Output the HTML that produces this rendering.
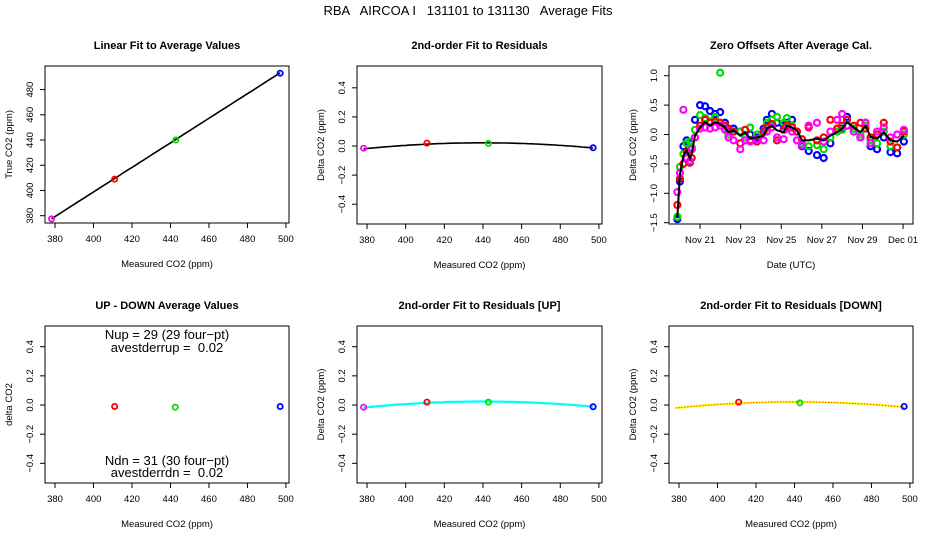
<!DOCTYPE html>
<html><head><meta charset="utf-8">
<style>
html,body{margin:0;padding:0;background:#fff;}
svg{display:block;font-family:"Liberation Sans",Arial,sans-serif;}
</style></head>
<body>
<svg id="fig" width="936" height="540" viewBox="0 0 936 540" xmlns="http://www.w3.org/2000/svg">
<rect width="936" height="540" fill="#fff"/>
<text x="468" y="15" font-size="13" text-anchor="middle" style="white-space:pre" xml:space="preserve">RBA   AIRCOA I   131101 to 131130   Average Fits</text>
</svg>
<script>
// ---- data ----
const measured = [378.2, 411.0, 442.8, 497.0];
const trueCO2 = [377.5, 409.0, 440.0, 493.0];
const pointColors = ["#ff00ff", "#ff0000", "#00dd00", "#0000ff"];
const linFit = [0.974, 9.2]; // slope, intercept
const resid = [-0.015, 0.02, 0.018, -0.012];
const residFit = [0.022, 1.09e-5, 440]; // peak, curvature, center
const udX = [411.0, 442.5, 497.0];
const udY = [-0.01, -0.015, -0.01];
const udColors = ["#ff0000", "#00dd00", "#0000ff"];
const residUp = [-0.015, 0.02, 0.02, -0.012];
const residDn = [-0.015, 0.02, 0.015, -0.01];
const xTicks = [380, 400, 420, 440, 460, 480, 500];
const yTicks1 = [380, 400, 420, 440, 460, 480];
const yTicksR = [-0.4, -0.2, 0.0, 0.2, 0.4];
const yTicksR3 = [-1.5, -1.0, -0.5, 0.0, 0.5, 1.0];
const dateTicks = [21, 23, 25, 27, 29, 31];
const dateLabels = ["Nov 21", "Nov 23", "Nov 25", "Nov 27", "Nov 29", "Dec 01"];
const days = [19.88,20.01,20.18,20.34,20.50,20.59,20.75,21.0,21.25,21.49,21.74,21.99,22.23,22.40,22.65,22.98,23.22,23.47,23.80,24.13,24.29,24.54,24.79,25.12,25.28,25.53,25.77,26.02,26.35,26.76,27.09,27.42,27.75,28.0,28.24,28.57,28.90,29.15,29.40,29.72,30.05,30.38,30.71,31.04];
const offBlack = [-1.42,-0.67,-0.36,-0.27,-0.41,-0.33,-0.02,0.12,0.21,0.15,0.21,0.18,0.12,0.04,0.07,-0.02,0.04,-0.07,-0.05,-0.02,0.10,0.15,0.07,0.04,0.15,0.12,0.07,-0.10,-0.10,-0.07,-0.10,-0.02,0.04,0.10,0.21,0.12,0.04,0.15,-0.04,-0.07,0.04,-0.10,-0.12,-0.02];
const offBlue = [-1.44,-0.80,-0.20,-0.10,-0.15,-0.25,0.25,0.50,0.48,0.40,0.35,0.38,0.20,0.05,0.10,0.05,-0.10,0.0,-0.05,0.10,0.25,0.35,0.20,0.15,0.20,0.25,0.05,-0.20,-0.28,-0.35,-0.40,-0.15,0.05,0.10,0.30,0.10,-0.05,0.20,-0.20,-0.25,-0.05,-0.30,-0.32,-0.12];
const offGreen = [-1.40,-0.55,-0.33,-0.15,-0.12,-0.22,0.08,0.33,0.28,0.22,0.30,1.05,0.15,0.0,0.05,0.05,-0.05,0.12,0.0,0.05,0.20,0.25,0.30,0.20,0.28,0.15,0.05,-0.15,-0.20,-0.18,-0.25,-0.05,0.05,0.08,0.25,0.10,0.0,0.15,-0.10,-0.15,0.05,-0.20,-0.22,0.0];
const offRed = [-1.20,-0.75,-0.50,-0.30,-0.48,-0.40,-0.05,0.15,0.25,0.20,0.22,0.20,0.15,0.10,0.05,-0.15,0.08,-0.10,-0.12,0.05,0.12,0.18,-0.10,0.08,0.15,0.12,0.05,-0.08,0.12,-0.10,-0.05,0.25,0.10,0.15,0.25,0.15,0.20,0.10,-0.05,0.0,0.20,-0.12,-0.22,0.05];
const offMagenta = [-0.98,-0.65,0.42,-0.40,-0.45,-0.25,-0.05,0.10,0.12,0.10,0.12,0.15,0.08,-0.05,-0.10,-0.25,-0.10,-0.12,-0.08,-0.10,0.05,0.12,-0.05,-0.08,0.10,0.05,-0.10,-0.18,0.15,0.20,-0.12,0.05,0.25,0.35,0.15,0.05,-0.05,0.20,-0.15,0.05,0.12,-0.05,0.0,0.08];

const NS = "http://www.w3.org/2000/svg";
const svg = document.getElementById("fig");
function mk(tag, attrs, parent, txt) {
  const e = document.createElementNS(NS, tag);
  for (const k in attrs) e.setAttribute(k, attrs[k]);
  if (txt !== undefined) e.textContent = txt;
  (parent || svg).appendChild(e);
  return e;
}
function scale(d0, d1, r0, r1) { return v => r0 + (v - d0) / (d1 - d0) * (r1 - r0); }

function panel(name, L, R, T, B, xd, yd, title, xlab, ylab, xt, xtl, yt) {
  const g = mk("g", {});
  
  
  const sx = scale(xd[0], xd[1], L, R), sy = scale(yd[0], yd[1], B, T);
  const box = mk("rect", {x: L, y: T, width: R - L, height: B - T, fill: "none", stroke: "#000", "stroke-width": 1}, g);
  
  
  const t = mk("text", {x: (L + R) / 2, y: T - 17, "font-size": 11, "font-weight": "bold", "text-anchor": "middle"}, g, title);
  
  
  const xa = mk("g", {}, g);
  
  
  mk("line", {x1: sx(xt[0]), x2: sx(xt[xt.length - 1]), y1: B, y2: B, stroke: "#000"}, xa);
  xt.forEach((v, i) => {
    mk("line", {x1: sx(v), x2: sx(v), y1: B, y2: B + 5, stroke: "#000"}, xa);
    const tl = mk("text", {x: sx(v), y: B + 19, "font-size": 9.5, "text-anchor": "middle"}, xa, xtl ? xtl[i] : String(v));
    
    
  });
  const xl = mk("text", {x: (L + R) / 2, y: B + 44, "font-size": 9.5, "text-anchor": "middle"}, g, xlab);
  
  
  const ya = mk("g", {}, g);
  
  
  mk("line", {x1: L, x2: L, y1: sy(yt[0]), y2: sy(yt[yt.length - 1]), stroke: "#000"}, ya);
  yt.forEach(v => {
    mk("line", {x1: L - 5, x2: L, y1: sy(v), y2: sy(v), stroke: "#000"}, ya);
    const lbl = (Math.abs(v) < 1e-9 ? "0.0" : (Number.isInteger(v) && Math.abs(v) >= 10 ? String(v) : v.toFixed(1).replace("-", "\u2212")));
    const tl = mk("text", {x: L - 12, y: sy(v), "font-size": 9.5, "text-anchor": "middle", transform: `rotate(-90 ${L - 12} ${sy(v)})`}, ya, lbl);
    
    
  });
  const yl = mk("text", {x: L - 33, y: (T + B) / 2, "font-size": 9.5, "text-anchor": "middle", transform: `rotate(-90 ${L - 33} ${(T + B) / 2})`}, g, ylab);
  
  
  return {g, sx, sy};
}
function pt(p, x, y, c, name, r, w) {
  const e = mk("circle", {cx: p.sx(x), cy: p.sy(y), r: r || 2.6, fill: "none", stroke: c, "stroke-width": w || 1.8}, p.g);
  
  
}
function curve(p, fn, x0, x1, color, w, name, dash) {
  let d = "";
  for (let i = 0; i <= 60; i++) { const x = x0 + (x1 - x0) * i / 60; d += (i ? "L" : "M") + p.sx(x).toFixed(1) + "," + p.sy(fn(x)).toFixed(1); }
  const e = mk("path", {d, fill: "none", stroke: color, "stroke-width": w}, p.g);
  if (dash) e.setAttribute("stroke-dasharray", dash);
  
  
}
const xd = [374.8, 501.6], ydR = [-0.536, 0.55], ydB = [-0.535, 0.542];
const quad = x => residFit[0] - residFit[1] * (x - residFit[2]) * (x - residFit[2]);
const xmin = Math.min(...measured), xmax = Math.max(...measured);

// Panel 1
const p1 = panel("linear-fit-panel", 45, 289, 66, 223, xd, [374.2, 498.7], "Linear Fit to Average Values", "Measured CO2 (ppm)", "True CO2 (ppm)", xTicks, null, yTicks1);
curve(p1, x => linFit[0] * x + linFit[1], xmin, xmax, "#000", 1.6, "linear-fit-line");
measured.forEach((m, i) => pt(p1, m, trueCO2[i], pointColors[i], "average-point"));

// Panel 2
const p2 = panel("residual-fit-panel", 357, 602, 66, 224, xd, ydR, "2nd-order Fit to Residuals", "Measured CO2 (ppm)", "Delta CO2 (ppm)", xTicks, null, yTicksR);
curve(p2, quad, xmin, xmax, "#000", 1.6, "quadratic-fit-curve");
measured.forEach((m, i) => pt(p2, m, resid[i], pointColors[i], "residual-point"));

// Panel 3
const p3 = panel("zero-offsets-panel", 669, 913, 66, 224, [19.47, 31.49], [-1.522, 1.165], "Zero Offsets After Average Cal.", "Date (UTC)", "Delta CO2 (ppm)", dateTicks, dateLabels, yTicksR3);
[[offBlue, "#0000ff", "blue-offset"], [offGreen, "#00dd00", "green-offset"], [offRed, "#ff0000", "red-offset"], [offMagenta, "#ff00ff", "magenta-offset"]].forEach(s => {
  s[0].forEach((v, i) => pt(p3, days[i], v, s[1], s[2] + "-point", 3, 2.2));
});
{
  let d = "";
  days.forEach((t, i) => { d += (i ? "L" : "M") + p3.sx(t).toFixed(1) + "," + p3.sy(offBlack[i]).toFixed(1); });
  const e = mk("path", {d, fill: "none", stroke: "#000", "stroke-width": 2}, p3.g);
  
  
}

// Panel 4
const p4 = panel("up-down-panel", 45, 289, 326, 483, xd, ydB, "UP - DOWN Average Values", "Measured CO2 (ppm)", "delta CO2", xTicks, null, yTicksR);
udX.forEach((m, i) => pt(p4, m, udY[i], udColors[i], "up-down-point"));
[["Nup = 29 (29 four\u2212pt)", 339, "nup-label"], ["avestderrup =  0.02", 352, "avestderrup-label"], ["Ndn = 31 (30 four\u2212pt)", 465, "ndn-label"], ["avestderrdn =  0.02", 477, "avestderrdn-label"]].forEach(a => {
  const e = mk("text", {x: 167, y: a[1], "font-size": 13, "text-anchor": "middle", style: "white-space:pre"}, p4.g, a[0]);
  
  
});

// Panel 5
const p5 = panel("residual-up-panel", 357, 602, 326, 483, xd, ydB, "2nd-order Fit to Residuals [UP]", "Measured CO2 (ppm)", "Delta CO2 (ppm)", xTicks, null, yTicksR);
curve(p5, quad, xmin, xmax, "#000", 1.2, "quadratic-fit-curve");
curve(p5, x => quad(x) + 0.002, xmin, xmax, "#00ffff", 2.2, "up-fit-curve");
measured.forEach((m, i) => pt(p5, m, residUp[i], pointColors[i], "residual-up-point"));

// Panel 6
const p6 = panel("residual-down-panel", 669, 913, 326, 483, xd, ydB, "2nd-order Fit to Residuals [DOWN]", "Measured CO2 (ppm)", "Delta CO2 (ppm)", xTicks, null, yTicksR);
curve(p6, quad, xmin, xmax, "#000", 1.2, "quadratic-fit-curve");
curve(p6, x => quad(x) - 0.001, xmin, xmax, "#ffff00", 2.2, "down-fit-curve");
curve(p6, x => quad(x) - 0.001, xmin, xmax, "#ff0000", 1, "down-fit-dotted", "1,2");
measured.slice(1).forEach((m, i) => pt(p6, m, residDn[i + 1], pointColors[i + 1], "residual-down-point"));
</script>
</body></html>
